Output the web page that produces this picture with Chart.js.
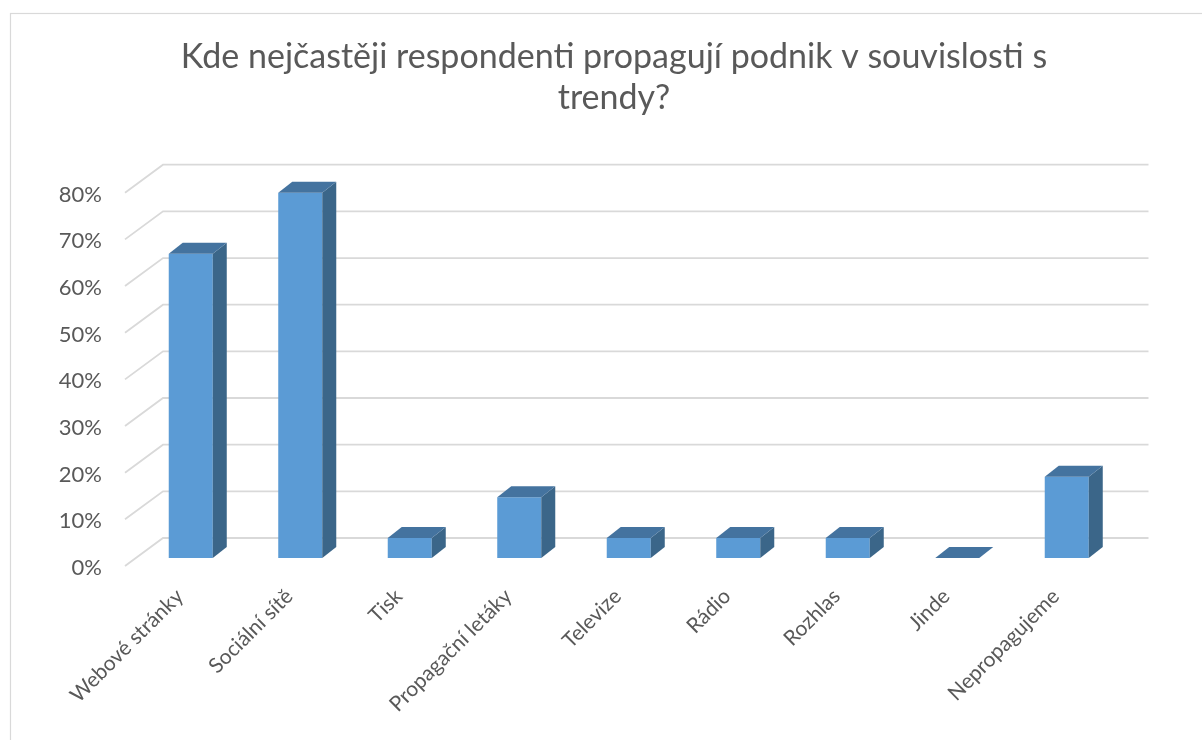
<!DOCTYPE html>
<html>
<head>
<meta charset="utf-8">
<script src="https://cdn.jsdelivr.net/npm/chart.js@4/dist/chart.umd.min.js"></script>
<style>
  html, body { margin: 0; padding: 0; background: #ffffff; }
  #wrap { width: 1202px; height: 740px; position: relative; }
</style>
</head>
<body>
<div id="wrap"><canvas id="c" width="1202" height="740"></canvas></div>
<script>
const categories = ["Webové stránky", "Sociální sítě", "Tisk", "Propagační letáky", "Televize", "Rádio", "Rozhlas", "Jinde", "Nepropagujeme"];
const values = [65.2, 78.3, 4.3, 13.0, 4.3, 4.3, 4.3, 0, 17.4];
const yTicks = [0, 10, 20, 30, 40, 50, 60, 70, 80];
const titleLines = ["Kde nejčastěji respondenti propagují podnik v souvislosti s", "trendy?"];

const FRONT = "#5b9bd5", SIDE = "#3b6689", TOP = "#44739f";
const GRID = "#d9d9d9";
const DEPTH_X = 14, DEPTH_Y = -11;   // bar depth
const BACK_X = 27, BACK_Y = -20;     // back wall offset from bar front plane
const FRONT_X = -11, FRONT_Y = 8;    // front plane offset from bar front plane

const threeD = {
  id: "threeD",
  beforeDraw(chart) {
    const ctx = chart.ctx;
    ctx.save();
    ctx.strokeStyle = GRID;
    ctx.lineWidth = 1.2;
    ctx.strokeRect(10.5, 13.5, 1250, 800);
    ctx.restore();
  },
  beforeDatasetsDraw(chart) {
    const ctx = chart.ctx, a = chart.chartArea, ys = chart.scales.y;
    ctx.save();
    ctx.strokeStyle = GRID;
    ctx.lineWidth = 1.8;
    ys.ticks.forEach(t => {
      const y = ys.getPixelForValue(t.value);
      ctx.beginPath();
      ctx.moveTo(a.left + FRONT_X, y + FRONT_Y);
      ctx.lineTo(a.left + BACK_X, y + BACK_Y);
      ctx.lineTo(a.right + BACK_X, y + BACK_Y);
      ctx.stroke();
    });
    ctx.restore();
  },
  afterDatasetsDraw(chart) {
    const ctx = chart.ctx;
    const meta = chart.getDatasetMeta(0);
    ctx.save();
    meta.data.forEach(bar => {
      const p = bar.getProps(["x", "y", "base", "width"], true);
      const l = p.x - p.width / 2, r = p.x + p.width / 2;
      const top = Math.min(p.y, p.base), bot = Math.max(p.y, p.base);
      if (bot - top > 0.5) {
        ctx.fillStyle = SIDE;
        ctx.beginPath();
        ctx.moveTo(r, top);
        ctx.lineTo(r + DEPTH_X, top + DEPTH_Y);
        ctx.lineTo(r + DEPTH_X, bot + DEPTH_Y);
        ctx.lineTo(r, bot);
        ctx.closePath();
        ctx.fill();
      }
      ctx.fillStyle = TOP;
      ctx.beginPath();
      ctx.moveTo(l, top);
      ctx.lineTo(l + DEPTH_X, top + DEPTH_Y);
      ctx.lineTo(r + DEPTH_X, top + DEPTH_Y);
      ctx.lineTo(r, top);
      ctx.closePath();
      ctx.fill();
    });
    ctx.restore();
  }
};

const FONT = "Lato, 'Open Sans', sans-serif";
const TXT = "#595959";

new Chart(document.getElementById("c"), {
  type: "bar",
  data: {
    labels: categories,
    datasets: [{
      data: values,
      backgroundColor: FRONT,
      borderWidth: 0,
      categoryPercentage: 1.0,
      barPercentage: 0.402
    }]
  },
  options: {
    responsive: false,
    animation: false,
    layout: { padding: { left: 26, right: 0, top: 0, bottom: 0 } },
    plugins: {
      legend: { display: false },
      tooltip: { enabled: false },
      title: {
        display: true,
        text: titleLines,
        color: TXT,
        font: { family: FONT, size: 34, weight: "normal", lineHeight: 1.2 },
        padding: { top: 36.6, bottom: 66.5 }
      }
    },
    scales: {
      x: {
        grid: { display: false },
        border: { display: false },
        ticks: {
          color: TXT,
          font: { family: FONT, size: 21 },
          minRotation: 45,
          maxRotation: 45,
          autoSkip: false,
          labelOffset: -11,
          padding: 18
        },
        afterFit(s) { s.height = 182; }
      },
      y: {
        min: 0,
        max: 80,
        grid: { display: false, drawTicks: false },
        border: { display: false },
        afterBuildTicks(s) { s.ticks = yTicks.map(v => ({ value: v })); },
        ticks: {
          color: TXT,
          font: { family: FONT, size: 22 },
          padding: 34,
          labelOffset: 10,
          callback: v => v + "%"
        },
        afterFit(s) { s.width = 110; }
      },
      yRight: {
        position: "right",
        min: 0,
        max: 80,
        grid: { display: false, drawTicks: false },
        border: { display: false },
        ticks: { display: false },
        afterFit(s) { s.width = 80.5; }
      }
    }
  },
  plugins: [threeD]
});
</script>
</body>
</html>
